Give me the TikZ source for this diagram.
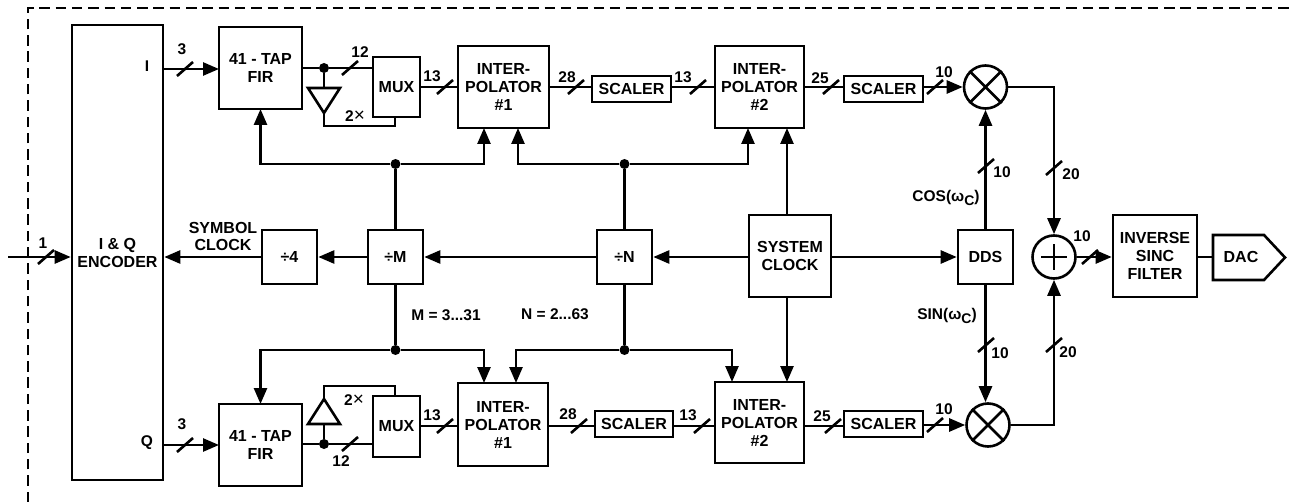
\documentclass[tikz,border=0pt]{standalone}
\usepackage{fontspec}
\setmainfont{Liberation Sans}
\usetikzlibrary{arrows.meta}
\tikzset{
  lw/.style={line width=2.6pt},
  blockbox/.style={draw,lw,rectangle,inner sep=0pt,align=center,font=\bfseries\fontsize{16}{18}\selectfont},
  lab/.style={inner sep=0pt,align=center,font=\bfseries\fontsize{15.5}{18}\selectfont},
  conn/.style={lw},
  arr/.style={lw,-{Triangle[length=16pt,width=13pt]}},
  dotnode/.style={circle,fill=black,inner sep=0pt,minimum size=10pt},
  sumnode/.style={circle,draw,lw,inner sep=0pt,minimum size=43pt},
  slashmark/.style={line width=2.6pt},
  framed/.style={line width=2.8pt,dash pattern=on 10.5pt off 5.8pt}
}
\newcommand{\blk}[6]{\node[blockbox,minimum width={(#4-#2)*1pt},minimum height={(#5-#3)*1pt}] (#1) at ({(#2+#4)/2},{(#3+#5)/2}) {#6};}
\newcommand{\slashat}[2]{\draw[slashmark] (#1-8,#2+7) -- (#1+8,#2-7);}
\newcommand{\lbl}[4]{\node[lab] (#1) at (#2,#3) {#4};}
\newcommand{\omegaC}{\textbf{ω}\raisebox{-4pt}{\fontsize{14}{14}\selectfont C}}
\newcommand{\timesmark}{{\fontsize{19}{18}\selectfont\mdseries ×}}
\begin{document}
\begin{tikzpicture}[x=1pt,y=-1pt]
\useasboundingbox (0,0) rectangle (1289,502);
\draw[framed] (28,502) -- (28,8) -- (1289,8);
% blocks
\blk{enc}{72}{25}{163}{480}{I \& Q\\ENCODER}
\blk{firA}{219}{27}{302}{109}{41 - TAP\\FIR}
\blk{muxA}{373}{57}{420}{117}{MUX}
\blk{intA}{458}{46}{549}{128}{INTER-\\POLATOR\\\#1}
\blk{scaA}{592}{76}{671}{102}{SCALER}
\blk{intB}{715}{46}{804}{128}{INTER-\\POLATOR\\\#2}
\blk{scaB}{844}{76}{923}{102}{SCALER}
\blk{firC}{219}{404}{302}{486}{41 - TAP\\FIR}
\blk{muxC}{373}{396}{420}{457}{MUX}
\blk{intC}{458}{383}{548}{466}{INTER-\\POLATOR\\\#1}
\blk{scaC}{595}{411}{673}{437}{SCALER}
\blk{intD}{715}{382}{804}{463}{INTER-\\POLATOR\\\#2}
\blk{scaD}{844}{411}{923}{437}{SCALER}
\blk{div4}{262}{230}{317}{284}{÷4}
\blk{divM}{368}{230}{423}{284}{÷M}
\blk{divN}{597}{230}{652}{284}{÷N}
\blk{clk}{749}{215}{831}{297}{SYSTEM\\CLOCK}
\blk{dds}{958}{230}{1013}{284}{DDS}
\blk{sinc}{1113}{215}{1197}{297}{INVERSE\\SINC\\FILTER}
% DAC
\draw[lw,line join=miter] (1213,235) -- (1264,235) -- (1285,257.5) -- (1264,280) -- (1213,280) -- cycle;
\node[lab,font=\bfseries\fontsize{16}{18}\selectfont] (dac) at (1241,257) {DAC};
\coordinate (dacin) at (1213,257);
% mixers and adder
\node[sumnode] (mixA) at (985.5,87) {};
\node[sumnode] (mixC) at (988,425) {};
\node[sumnode] (add) at (1054,257) {};
\draw[lw] (mixA.45) -- (mixA.225) (mixA.135) -- (mixA.315);
\draw[lw] (mixC.45) -- (mixC.225) (mixC.135) -- (mixC.315);
\draw[lw] ([xshift=-13pt]add.center) -- ([xshift=13pt]add.center) ([yshift=-13pt]add.center) -- ([yshift=13pt]add.center);
% dots
\node[dotnode] (dA) at (324,68) {};
\node[dotnode] (dC) at (324,444) {};
\node[dotnode] (bMt) at (395.5,164) {};
\node[dotnode] (bNt) at (624.5,164) {};
\node[dotnode] (bMb) at (395.5,350) {};
\node[dotnode] (bNb) at (624.5,350) {};
% ports
\coordinate (src) at (8,257);
\coordinate (encI) at (163,69); \coordinate (firAi) at (219,69);
\coordinate (encQ) at (163,445); \coordinate (firCi) at (219,445);
\coordinate (firAo) at (302,68); \coordinate (muxAi) at (373,68);
\coordinate (firCo) at (302,444); \coordinate (muxCi) at (373,444);
\coordinate (pA1) at (484,128); \coordinate (pA2) at (518,128);
\coordinate (pB1) at (748,128); \coordinate (pB2) at (787,128);
\coordinate (pC1) at (484,383); \coordinate (pC2) at (516,383);
\coordinate (pD1) at (732,382); \coordinate (pD2) at (787,382);
\coordinate (cT) at (787,215); \coordinate (cB) at (787,297);
\coordinate (firAb) at (260.5,109); \coordinate (firCt) at (260.5,404);
\coordinate (muxAf) at (395,117); \coordinate (muxCf) at (395,396);
\coordinate (rowC) at (0,426);
% buffers
\coordinate (trAi) at (324,88); \coordinate (trAo) at (324,113);
\coordinate (trCi) at (324,424); \coordinate (trCo) at (324,399);
\draw[lw,line join=miter] (308,88) -- (340,88) -- (trAo) -- cycle;
\draw[lw,line join=miter] (308,424) -- (340,424) -- (trCo) -- cycle;
% I/Q paths
\draw[arr] (src) -- (enc.west |- src);
\draw[arr] (encI) -- (firAi);
\draw[arr] (encQ) -- (firCi);
\draw[conn] (firAo) -- (dA) -- (muxAi);
\draw[conn] (firCo) -- (dC) -- (muxCi);
\draw[conn] (dA) -- (trAi);
\draw[conn] (dC) -- (trCi);
\draw[conn] (trAo) -- (324,126) -| (muxAf);
\draw[conn] (trCo) -- (324,386) -| (muxCf);
\draw[conn] (muxA.east) -- (intA.west);
\draw[conn] (muxC.east |- rowC) -- (intC.west |- rowC);
\draw[conn] (intA.east) -- (scaA.west |- intA.east);
\draw[conn] (scaA.east |- intA.east) -- (intB.west);
\draw[conn] (intB.east) -- (scaB.west |- intB.east);
\draw[arr] (scaB.east |- mixA.west) -- (mixA.west);
\draw[conn] (intC.east |- rowC) -- (scaC.west |- rowC);
\draw[conn] (scaC.east |- rowC) -- (intD.west |- rowC);
\draw[conn] (intD.east |- rowC) -- (scaD.west |- rowC);
\draw[arr] (scaD.east |- mixC.west) -- (mixC.west);
\draw[arr] (mixA.east) -| (add.north);
\draw[arr] (mixC.east) -| (add.south);
\draw[arr] (add.east) -- (sinc.west |- add.east);
\draw[conn] (sinc.east |- dacin) -- (dacin);
\draw[arr] (dds.north) -- (dds.north |- mixA.south);
\draw[arr] (dds.south) -- (dds.south |- mixC.north);
% clock chain
\draw[arr] (clk.west |- divN.east) -- (divN.east);
\draw[arr] (divN.west) -- (divM.east);
\draw[arr] (divM.west) -- (div4.east);
\draw[arr] (div4.west) -- (enc.east |- div4.west);
\draw[arr] (clk.east |- dds.west) -- (dds.west);
\draw[conn] (divM.north) -- (bMt);
\draw[conn] (divN.north) -- (bNt);
\draw[conn] (divM.south) -- (bMb);
\draw[conn] (divN.south) -- (bNb);
\draw[arr] (bMt) -| (firAb);
\draw[arr] (bMt) -| (pA1);
\draw[arr] (bNt) -| (pA2);
\draw[arr] (bNt) -| (pB1);
\draw[arr] (bMb) -| (firCt);
\draw[arr] (bMb) -| (pC1);
\draw[arr] (bNb) -| (pC2);
\draw[arr] (bNb) -| (pD1);
\draw[arr] (cT) -- (pB2);
\draw[arr] (cB) -- (pD2);
% bus slashes
\slashat{46}{257}\slashat{185}{69}\slashat{185}{445}
\slashat{350}{68}\slashat{350}{444}\slashat{445}{87}\slashat{445}{426}
\slashat{576}{87}\slashat{698}{87}\slashat{831}{87}\slashat{935}{87}
\slashat{579}{426}\slashat{702}{426}\slashat{833}{426}\slashat{935}{425}
\slashat{986}{166}\slashat{1054}{168}\slashat{986}{345}\slashat{1054}{345}\slashat{1090}{257}
% labels
\lbl{l1}{43}{243}{1}
\lbl{lI}{147}{66}{I}
\lbl{lQ}{147}{443}{Q}
\lbl{l3a}{182}{49}{3}
\lbl{l3c}{182}{424}{3}
\lbl{l12a}{360}{52}{12}
\lbl{l12c}{341}{461}{12}
\node[lab] (x2a) at (355,116) {2\timesmark};
\node[lab] (x2c) at (354,400) {2\timesmark};
\lbl{l13a}{432}{76}{13}
\lbl{l13c}{432}{415}{13}
\lbl{l28a}{567}{77}{28}
\lbl{l13b}{683}{77}{13}
\lbl{l25a}{820}{78}{25}
\lbl{l10a}{944}{72}{10}
\lbl{l28c}{568}{414}{28}
\lbl{l13d}{688}{415}{13}
\lbl{l25c}{822}{416}{25}
\lbl{l10c}{944}{409}{10}
\lbl{l10d}{1002}{172}{10}
\lbl{l20a}{1071}{174}{20}
\lbl{l10e}{1000}{353}{10}
\lbl{l20c}{1068}{352}{20}
\lbl{l10f}{1082}{236}{10}
\node[lab,font=\bfseries\fontsize{16}{17}\selectfont] (sym) at (223,236) {SYMBOL\\CLOCK};
\lbl{lM}{446}{315}{M = 3...31}
\lbl{lN}{555}{314}{N = 2...63}
\lbl{lcos}{946}{198}{COS(\omegaC)}
\lbl{lsin}{947}{316}{SIN(\omegaC)}
\end{tikzpicture}
\end{document}
